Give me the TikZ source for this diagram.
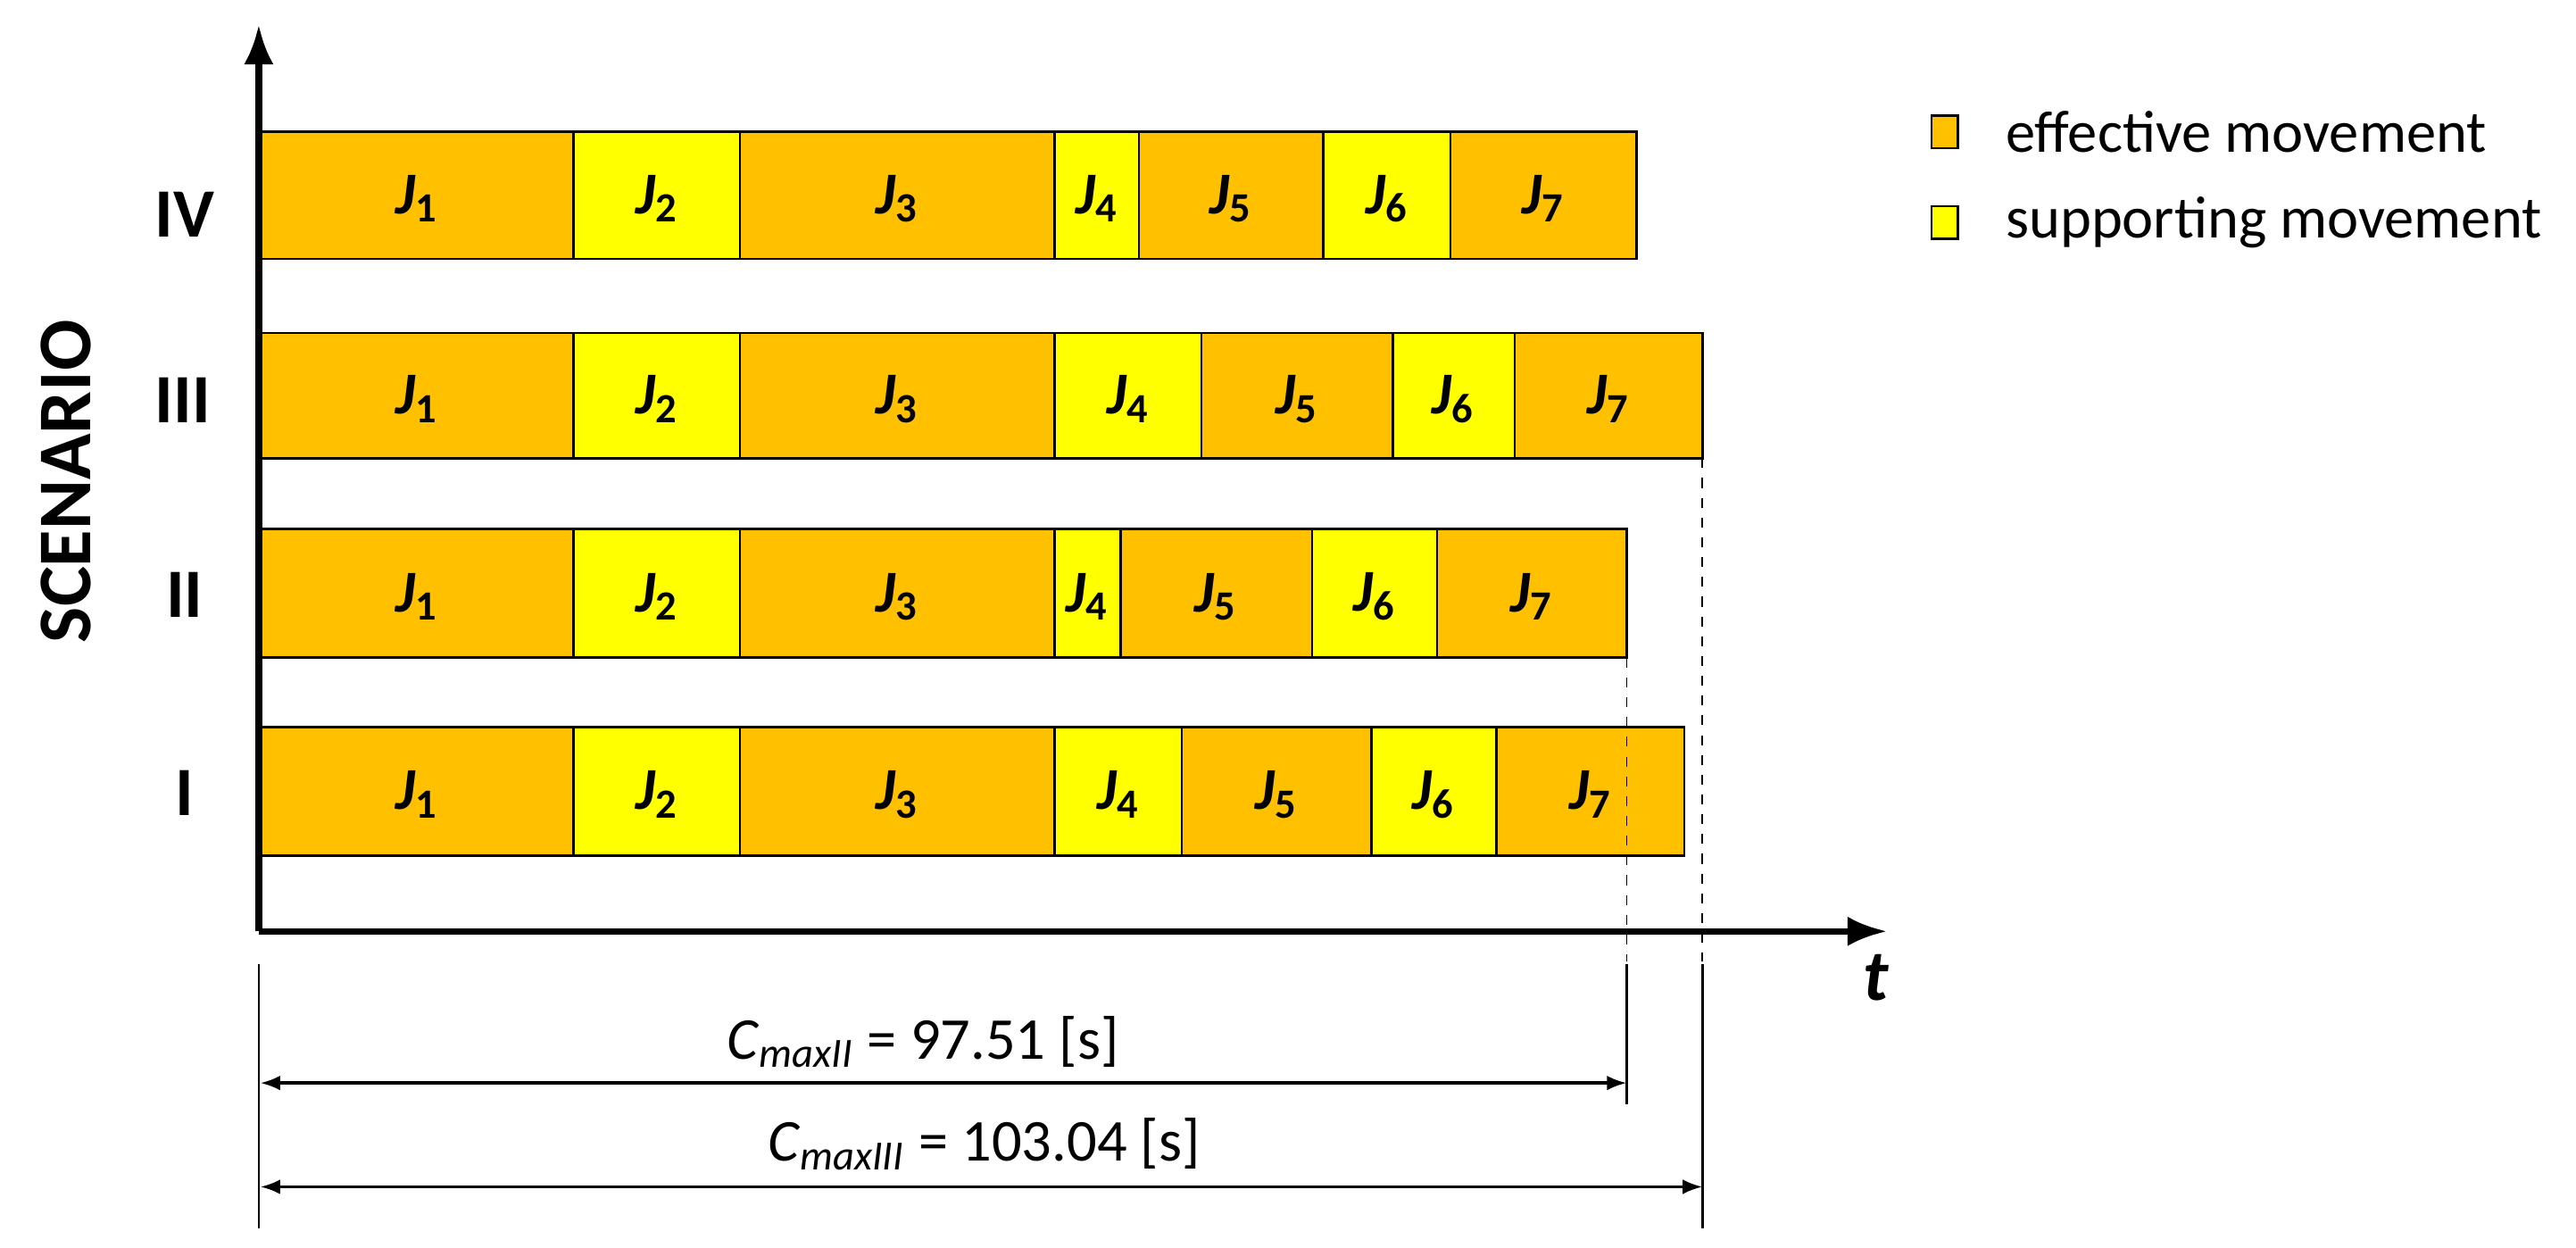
\documentclass[tikz,border=0pt]{standalone}
\usepackage{fontspec}
\setmainfont{Carlito}
\usetikzlibrary{arrows.meta}
\definecolor{eff}{HTML}{FFC000}
\definecolor{sup}{HTML}{FFFF00}
\begin{document}
\begin{tikzpicture}[x=0.5pt,y=-0.5pt,
  seg/.style={draw=black,line width=0.7pt},
  jl/.style={font=\fontsize{18}{20}\selectfont\bfseries\itshape},
  sl/.style={font=\fontsize{21}{24}\selectfont\bfseries},
  dim/.style={line width=0.9pt,{Latex[length=6pt]}-{Latex[length=6pt]}},
  leg/.style={font=\fontsize{18}{20}\selectfont}]
\useasboundingbox (0,0) rectangle (1563,757);
\def\drawbar#1#2#3#4#5#6#7#8#9{%
  \foreach \a/\b/\c/\n in {158/#3/eff/1,#3/#4/sup/2,#4/#5/eff/3,#5/#6/sup/4,#6/#7/eff/5,#7/#8/sup/6,#8/#9/eff/7}{
    \filldraw[seg,fill=\c] (\a,#1) rectangle (\b,#2);
    \node[jl] (j#1n\n) at ({(\a+\b)/2},{(#1+#2)/2+2}) {J\textsubscript{\upshape\n}};
  }}
\drawbar{80}{157}{348}{449}{640}{691}{803}{880}{993}
\drawbar{202}{278}{348}{449}{640}{729}{845}{919}{1033}
\drawbar{321}{399}{348}{449}{640}{680}{796}{872}{987}
\drawbar{441}{519}{348}{449}{640}{717}{832}{908}{1022}
% axes
\coordinate (o) at (157,565);
\coordinate (ytop) at (157,15);
\coordinate (xend) at (1145,565);
\draw[line width=2pt,-{Latex[length=12pt,width=9pt]}] (o) -- (ytop);
\draw[line width=2pt,-{Latex[length=12pt,width=9pt]}] (o) -- (xend);
\node[font=\fontsize{22}{24}\selectfont\bfseries\itshape] (t) at (1138,593) {t};
% scenario labels
\node[sl] (s4) at (112,130) {IV};
\node[sl] (s3) at (111,243) {III};
\node[sl] (s2) at (112,361) {II};
\node[sl] (s1) at (112,481) {I};
\node[sl,font=\fontsize{23}{26}\selectfont\bfseries,rotate=90] (scn) at (40,292) {SCENARIO};
% dashed lines
\coordinate (d2a) at (987,399); \coordinate (d2b) at (987,583);
\coordinate (d3a) at (1033,278); \coordinate (d3b) at (1033,583);
\draw[dashed,line width=0.5pt] (d2a) -- (d2b);
\draw[dashed,line width=0.5pt] (d3a) -- (d3b);
\coordinate (v0a) at (157,585); \coordinate (v0b) at (157,745);
\coordinate (v2a) at (987,585); \coordinate (v2b) at (987,670);
\coordinate (v3a) at (1033,585); \coordinate (v3b) at (1033,745);
\draw[line width=0.6pt] (v0a) -- (v0b);
\draw[line width=0.6pt] (v2a) -- (v2b);
\draw[line width=0.6pt] (v3a) -- (v3b);
\coordinate (a2l) at (158,657); \coordinate (a2r) at (987,657);
\coordinate (a3l) at (158,720); \coordinate (a3r) at (1033,720);
\draw[dim] (a2l) -- (a2r);
\draw[dim] (a3l) -- (a3r);
\node[leg] (c2) at (560,632) {\textit{C}\textsubscript{\textit{maxII}} = 97.51 [s]};
\node[leg] (c3) at (597,694) {\textit{C}\textsubscript{\textit{maxIII}} = 103.04 [s]};
% legend
\filldraw[seg,fill=eff] (1172,70) rectangle (1188,90);
\filldraw[seg,fill=sup] (1172,125) rectangle (1188,145);
\node[leg,anchor=west] (l1) at (1210,80) {effective movement};
\node[leg,anchor=west] (l2) at (1210,135) {supporting movement};
\end{tikzpicture}
\end{document}
